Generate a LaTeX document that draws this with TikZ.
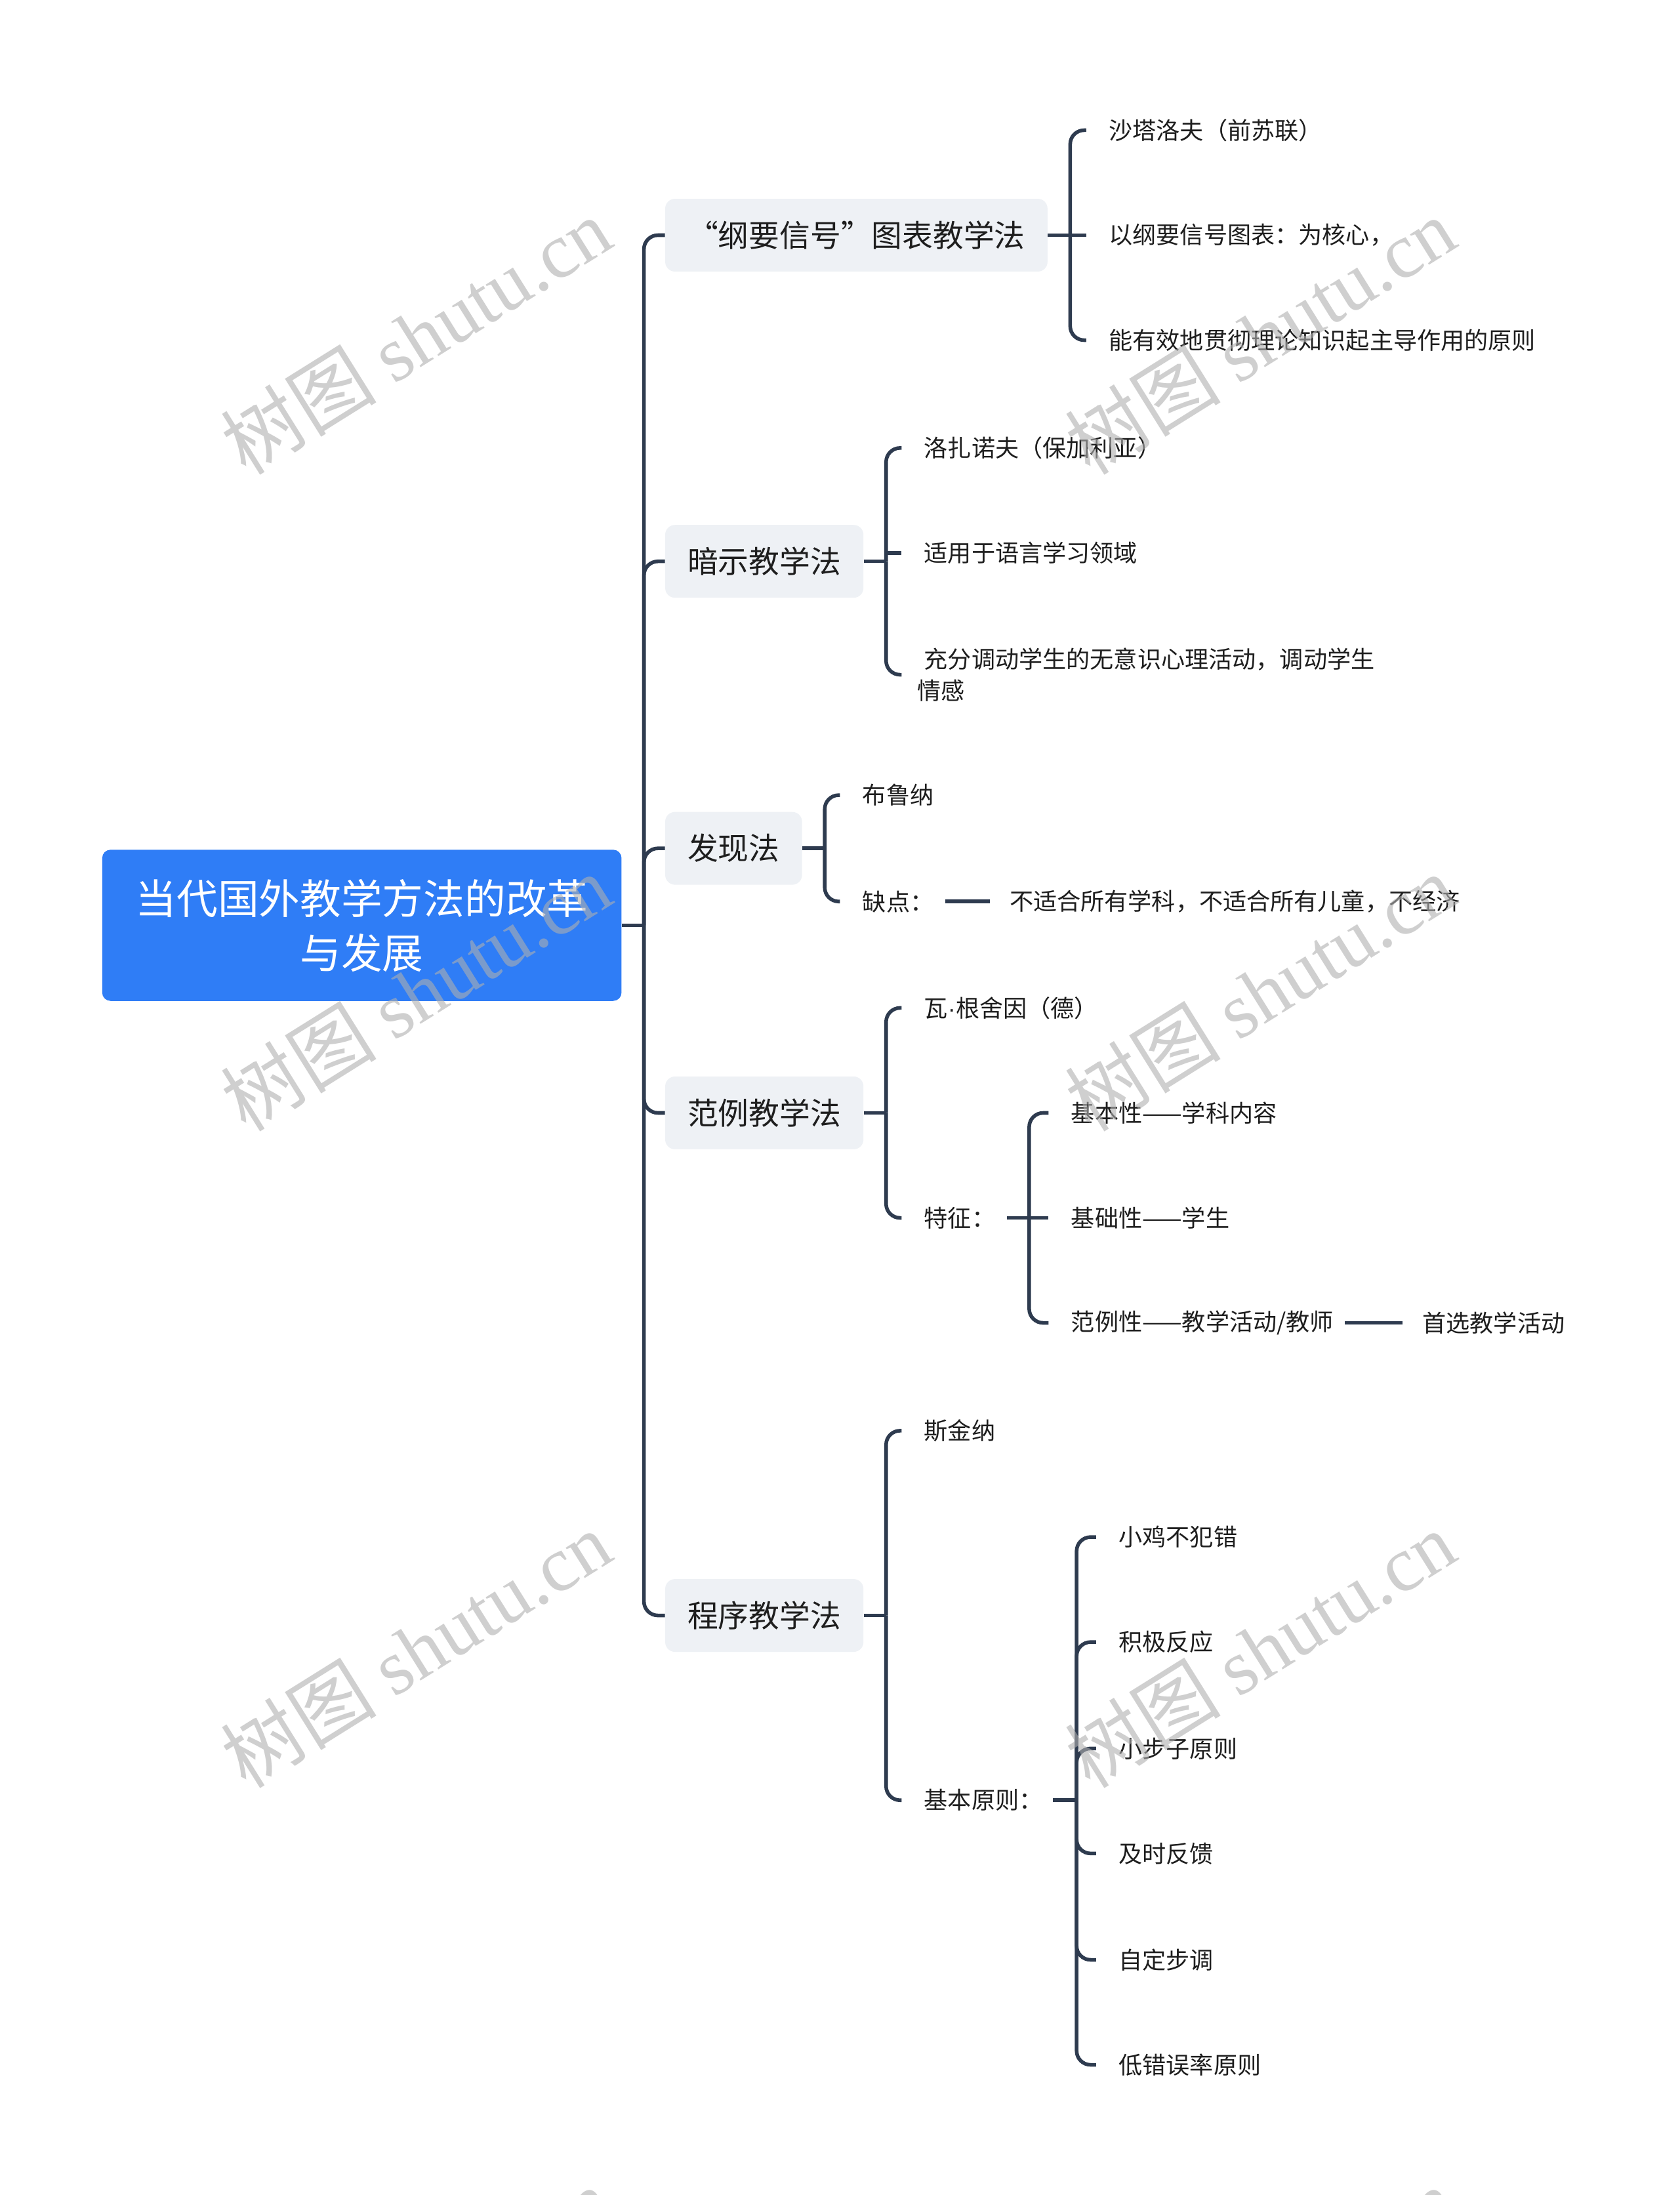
\documentclass[tikz,border=0pt]{standalone}
\usepackage{fontspec}
\setmainfont{Noto Sans CJK SC}
\newfontfamily\marklatin{Liberation Serif}
\newfontfamily\latinsans{Liberation Sans}
\usepackage{tikz}
\usetikzlibrary{calc}
\definecolor{rootblue}{RGB}{47,125,246}
\definecolor{topicgray}{RGB}{238,241,245}
\definecolor{linkcol}{RGB}{46,59,79}
\definecolor{ink}{RGB}{30,30,30}
\definecolor{markgray}{RGB}{175,175,175}

\tikzset{
  rootbox/.style={rectangle, rounded corners=6bp, fill=rootblue, text=white,
    minimum width=371bp, minimum height=108bp, align=center, inner sep=0pt,
    font=\fontsize{29.5}{39}\selectfont},
  topic/.style={rectangle, rounded corners=7bp, fill=topicgray, text=ink,
    minimum height=52bp, inner xsep=16bp, inner ysep=0pt, anchor=west,
    font=\fontsize{22}{26}\selectfont},
  leaf/.style={inner sep=0pt, text=ink, anchor=west, font=\fontsize{17}{23}\selectfont},
  link/.style={draw=linkcol, line width=2.6bp, rounded corners=10bp},
  wmark/.style={text=markgray, opacity=0.6, rotate=32, inner sep=0pt,
    font=\fontsize{56}{60}\selectfont},
}

\begin{document}
\begin{tikzpicture}[x=1bp, y=-1bp]
    \fill[white] (0,0) rectangle (1200,1568);
    \useasboundingbox (0,0) rectangle (1200,1568);

    % root and main topics
    \node[rootbox] (root) at (258.5,661) {当代国外教学方法的改革\\与发展};
    \node[topic] (t1) at (475,168) {“纲要信号”图表教学法};
    \node[topic] (t2) at (475,401) {暗示教学法};
    \node[topic] (t3) at (475,606) {发现法};
    \node[topic] (t4) at (475,795) {范例教学法};
    \node[topic] (t5) at (475,1154) {程序教学法};

    \coordinate (jroot) at (460,661);
    \draw[link] (root.east) -- (jroot);
    \draw[link] (jroot) |- (t1.west);
    \draw[link] (jroot) |- (t2.west);
    \draw[link] (jroot) |- (t3.west);
    \draw[link] (jroot) |- (t4.west);
    \draw[link] (jroot) |- (t5.west);

    % 纲要信号
    \node[leaf] (a1) at (792,93) {沙塔洛夫（前苏联）};
    \node[leaf] (a2) at (792,168) {以纲要信号图表：为核心，};
    \node[leaf] (a3) at (792,243) {能有效地贯彻理论知识起主导作用的原则};
    \draw[link] (t1.east) -- ++(16,0) coordinate (j1);
    \draw[link] (j1) |- ([xshift=-16bp]a1.west);
    \draw[link] (j1) -- ([xshift=-16bp]a2.west);
    \draw[link] (j1) |- ([xshift=-16bp]a3.west);

    % 暗示
    \node[leaf] (b1) at (660,320) {洛扎诺夫（保加利亚）};
    \node[leaf] (b2) at (660,395) {适用于语言学习领域};
    \node[leaf, align=left] (b3) at (655,482) {\hspace{5bp}充分调动学生的无意识心理活动，调动学生\\情感};
    \draw[link] (t2.east) -- ++(16,0) coordinate (j2);
    \draw[link] (j2) |- ([xshift=-16bp]b1.west);
    \draw[link] (j2 |- b2.west) -- ([xshift=-16bp]b2.west);
    \draw[link] (j2) |- ([xshift=-11bp]b3.west);

    % 发现法
    \node[leaf] (d1) at (616,568) {布鲁纳};
    \node[leaf] (d2) at (616,644) {缺点：};
    \node[leaf] (d3) at (721,644) {不适合所有学科，不适合所有儿童，不经济};
    \draw[link] (t3.east) -- ++(16,0) coordinate (j3);
    \draw[link] (j3) |- ([xshift=-16bp]d1.west);
    \draw[link] (j3) |- ([xshift=-16bp]d2.west);
    \draw[link] ([xshift=8bp]d2.east) -- ([xshift=-14bp]d3.west);

    % 范例教学法
    \node[leaf] (c1) at (660,720) {瓦{\latinsans ·}根舍因（德）};
    \node[leaf] (c2) at (660,870) {特征：};
    \draw[link] (t4.east) -- ++(16,0) coordinate (j4);
    \draw[link] (j4) |- ([xshift=-16bp]c1.west);
    \draw[link] (j4) |- ([xshift=-16bp]c2.west);

    \node[leaf] (e1) at (765,795) {基本性——学科内容};
    \node[leaf] (e2) at (765,870) {基础性——学生};
    \node[leaf] (e3) at (765,945) {范例性——教学活动/教师};
    \node[leaf] (e4) at (1016,945) {首选教学活动};
    \draw[link] ([xshift=8bp]c2.east) -- ++(16,0) coordinate (j5);
    \draw[link] (j5) |- ([xshift=-16bp]e1.west);
    \draw[link] (j5) -- ([xshift=-16bp]e2.west);
    \draw[link] (j5) |- ([xshift=-16bp]e3.west);
    \draw[link] ([xshift=8bp]e3.east) -- ([xshift=-14bp]e4.west);

    % 程序教学法
    \node[leaf] (p1) at (660,1022) {斯金纳};
    \node[leaf] (p2) at (660,1286) {基本原则：};
    \draw[link] (t5.east) -- ++(16,0) coordinate (j6);
    \draw[link] (j6) |- ([xshift=-16bp]p1.west);
    \draw[link] (j6) |- ([xshift=-16bp]p2.west);

    \node[leaf] (q1) at (799,1098) {小鸡不犯错};
    \node[leaf] (q2) at (799,1173) {积极反应};
    \node[leaf] (q3) at (799,1249) {小步子原则};
    \node[leaf] (q4) at (799,1324) {及时反馈};
    \node[leaf] (q5) at (799,1400) {自定步调};
    \node[leaf] (q6) at (799,1475) {低错误率原则};
    \draw[link] ([xshift=7bp]p2.east) -- ++(17,0) coordinate (j7);
    \draw[link] (j7) |- ([xshift=-16bp]q1.west);
    \draw[link] (j7) |- ([xshift=-16bp]q2.west);
    \draw[link] (j7) |- ([xshift=-16bp]q3.west);
    \draw[link] (j7) |- ([xshift=-16bp]q4.west);
    \draw[link] (j7) |- ([xshift=-16bp]q5.west);
    \draw[link] (j7) |- ([xshift=-16bp]q6.west);

    % watermarks
    \begin{scope}
      \clip (0,0) rectangle (1200,1568);
      \node[wmark] (w1) at (297,240) {树图 {\marklatin shutu.cn}};
      \node[wmark] (w2) at (900,240) {树图 {\marklatin shutu.cn}};
      \node[wmark] (w3) at (297,709) {树图 {\marklatin shutu.cn}};
      \node[wmark] (w4) at (900,709) {树图 {\marklatin shutu.cn}};
      \node[wmark] (w5) at (297,1178) {树图 {\marklatin shutu.cn}};
      \node[wmark] (w6) at (900,1178) {树图 {\marklatin shutu.cn}};
      \node[wmark] (w7) at (297,1647) {树图 {\marklatin shutu.cn}};
      \node[wmark] (w8) at (900,1647) {树图 {\marklatin shutu.cn}};
    \end{scope}
\end{tikzpicture}
\end{document}
